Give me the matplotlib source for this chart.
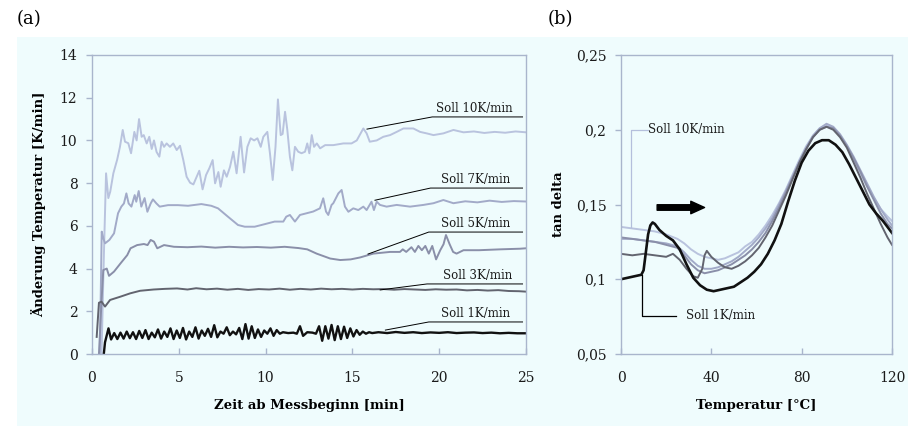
import numpy as np
import matplotlib
matplotlib.use('Agg')
import matplotlib.pyplot as plt
from matplotlib.patches import Rectangle

plt.rcParams['font.family'] = ['DejaVu Serif']

# --- (a) Heizrate ueber Zeit ---
t10 = [0.55, 0.68, 0.81, 0.94, 1.05, 1.23, 1.45, 1.61, 1.77, 1.90, 2.09, 2.25, 2.44, 2.57, 2.71, 2.86, 2.98, 3.15, 3.30, 3.44,
       3.57, 3.72, 3.88, 4.01, 4.15, 4.30, 4.49, 4.68, 4.88, 5.07, 5.26, 5.45, 5.65, 5.84, 6.03, 6.18, 6.37, 6.57, 6.76, 6.95,
       7.09, 7.28, 7.41, 7.60, 7.76, 7.95, 8.14, 8.33, 8.56, 8.76, 8.95, 9.14, 9.34, 9.53, 9.72, 9.87, 10.10, 10.25, 10.41, 10.57,
       10.71, 10.87, 10.98, 11.12, 11.25, 11.40, 11.54, 11.69, 11.88, 12.07, 12.27, 12.40, 12.52, 12.66, 12.79, 12.95, 13.14, 13.43, 13.90, 14.48,
       14.95, 15.25, 15.63, 15.82, 16.00, 16.40, 16.78, 17.17, 17.55, 17.94, 18.51, 18.90, 19.28, 19.67, 20.24, 20.82, 21.4, 22.0, 22.6, 23.2,
       23.8, 24.4, 25.0]
v10 = [0.0, 4.5, 8.46, 7.30, 7.6, 8.46, 9.1, 9.70, 10.49, 9.94, 9.87, 9.40, 10.40, 10.00, 11.00, 10.17, 10.25, 9.86, 10.17, 9.60,
       10.00, 9.46, 9.24, 9.94, 9.70, 9.86, 9.70, 9.86, 9.55, 9.75, 9.08, 8.30, 8.02, 7.94, 8.30, 8.58, 7.71, 8.38, 8.70, 9.08,
       7.99, 8.52, 7.83, 8.60, 8.30, 8.76, 9.47, 8.46, 10.17, 8.50, 9.70, 10.10, 10.00, 10.10, 9.70, 10.17, 10.40, 9.40, 8.15, 9.70,
       11.92, 10.25, 10.30, 11.34, 10.50, 9.24, 8.60, 9.70, 9.47, 9.40, 9.47, 9.86, 9.40, 10.25, 9.70, 9.86, 9.63, 9.78, 9.78, 9.86,
       9.86, 10.00, 10.56, 10.33, 9.94, 10.00, 10.17, 10.25, 10.40, 10.56, 10.56, 10.40, 10.33, 10.25, 10.33, 10.49, 10.38, 10.42, 10.35, 10.40,
       10.36, 10.42, 10.38]

t7 = [0.45, 0.56, 0.66, 0.75, 1.00, 1.27, 1.50, 1.69, 1.84, 1.98, 2.11, 2.27, 2.46, 2.55, 2.69, 2.84, 3.03, 3.19, 3.38, 3.51,
      3.71, 3.90, 4.38, 4.95, 5.53, 6.30, 6.87, 7.26, 7.83, 8.41, 8.80, 9.37, 9.76, 10.14, 10.52, 11.02, 11.19, 11.40, 11.69, 11.98,
      12.36, 12.74, 13.13, 13.32, 13.48, 13.61, 13.80, 13.90, 14.19, 14.38, 14.57, 14.77, 15.05, 15.34, 15.63, 15.82, 16.10, 16.24, 16.40, 16.59,
      16.97, 17.55, 18.32, 19.09, 19.67, 20.24, 20.82, 21.5, 22.2, 22.9, 23.6, 24.3, 25.0]
v7 = [0.0, 5.73, 5.4, 5.18, 5.34, 5.65, 6.59, 6.90, 7.05, 7.52, 7.05, 6.90, 7.44, 7.13, 7.63, 6.90, 7.30, 6.66, 7.05, 7.24,
      7.05, 6.90, 6.97, 6.97, 6.94, 7.02, 6.94, 6.82, 6.43, 6.04, 5.96, 5.96, 6.04, 6.12, 6.20, 6.20, 6.43, 6.51, 6.20, 6.51,
      6.59, 6.67, 6.82, 7.29, 6.67, 6.51, 6.98, 7.06, 7.52, 7.68, 6.90, 6.66, 6.82, 6.74, 6.90, 6.74, 7.13, 6.74, 7.13, 6.98,
      6.90, 6.98, 6.90, 6.98, 7.06, 7.21, 7.06, 7.15, 7.10, 7.18, 7.12, 7.16, 7.14]

t5 = [0.40, 0.55, 0.65, 0.85, 0.98, 1.27, 1.65, 2.03, 2.22, 2.60, 2.99, 3.20, 3.38, 3.57, 3.76, 4.15, 4.72, 5.5, 6.3, 7.1,
      7.9, 8.7, 9.5, 10.3, 11.1, 11.9, 12.4, 12.94, 13.72, 14.30, 14.90, 15.44, 16.2, 17.17, 17.74, 17.9, 18.1, 18.4, 18.6, 18.8,
      19.0, 19.2, 19.4, 19.6, 19.82, 20.06, 20.25, 20.39, 20.6, 20.8, 21.0, 21.4, 22.3, 23.5, 24.66, 25.0]
v5 = [0.0, 2.5, 3.93, 4.0, 3.66, 3.86, 4.25, 4.63, 4.95, 5.10, 5.15, 5.10, 5.34, 5.26, 4.95, 5.10, 5.02, 5.00, 5.03, 4.98,
      5.02, 4.99, 5.01, 4.98, 5.02, 4.96, 4.90, 4.70, 4.47, 4.40, 4.43, 4.52, 4.70, 4.78, 4.78, 4.90, 4.78, 5.00, 4.78, 5.06,
      4.86, 5.06, 4.70, 5.06, 4.43, 4.86, 5.14, 5.57, 5.14, 4.78, 4.70, 4.86, 4.86, 4.90, 4.93, 4.95]

t3 = [0.27, 0.40, 0.55, 0.75, 1.04, 1.62, 2.20, 2.77, 3.55, 4.2, 4.9, 5.5, 6.0, 6.6, 7.2, 7.8, 8.4, 9.0, 9.6, 10.2,
      10.8, 11.4, 12.0, 12.6, 13.2, 13.8, 14.4, 15.0, 15.6, 16.2, 16.8, 17.4, 18.0, 18.6, 19.2, 19.8, 20.4, 21.0, 21.6, 22.2,
      22.8, 23.4, 24.0, 24.6, 25.0]
v3 = [0.80, 2.40, 2.45, 2.22, 2.53, 2.68, 2.84, 2.96, 3.02, 3.05, 3.07, 3.02, 3.08, 3.03, 3.06, 3.01, 3.05, 3.00, 3.04, 3.02,
      3.06, 3.01, 3.05, 3.02, 3.06, 3.03, 3.05, 3.02, 3.05, 3.03, 3.04, 3.01, 3.04, 3.02, 3.00, 3.03, 3.01, 3.02, 2.98, 3.00,
      2.97, 2.99, 2.95, 2.94, 2.92]

t1 = [0.68, 0.75, 0.95, 1.10, 1.28, 1.46, 1.64, 1.82, 2.00, 2.18, 2.36, 2.54, 2.72, 2.90, 3.08, 3.26, 3.44, 3.62, 3.80, 3.98,
      4.16, 4.34, 4.52, 4.70, 4.88, 5.06, 5.24, 5.42, 5.60, 5.78, 5.96, 6.14, 6.32, 6.50, 6.68, 6.86, 7.04, 7.22, 7.40, 7.58,
      7.76, 7.94, 8.12, 8.30, 8.48, 8.66, 8.84, 9.02, 9.20, 9.38, 9.56, 9.74, 9.92, 10.10, 10.28, 10.46, 10.64, 10.82, 11.00, 11.30,
      11.60, 11.80, 11.98, 12.16, 12.40, 12.70, 12.90, 13.08, 13.26, 13.44, 13.62, 13.80, 13.98, 14.16, 14.34, 14.52, 14.70, 14.88, 15.06, 15.24,
      15.42, 15.60, 15.78, 15.96, 16.14, 16.5, 17.0, 17.5, 18.0, 18.5, 19.0, 19.5, 20.0, 20.5, 21.0, 21.5, 22.0, 22.5, 23.0, 23.5,
      24.0, 24.5, 25.0]
v1 = [0.0, 0.55, 1.20, 0.68, 0.98, 0.70, 1.00, 0.72, 1.05, 0.74, 1.02, 0.70, 1.08, 0.75, 1.12, 0.70, 1.00, 0.78, 1.15, 0.72,
      1.05, 0.80, 1.20, 0.70, 1.10, 0.75, 1.22, 0.68, 1.05, 0.80, 1.25, 0.72, 1.10, 0.85, 1.18, 0.80, 1.35, 0.78, 1.05, 0.95,
      1.25, 0.88, 1.05, 0.92, 1.22, 0.70, 1.40, 0.72, 1.30, 0.75, 1.15, 0.80, 1.10, 0.95, 1.20, 0.85, 1.12, 0.95, 1.02, 0.98,
      1.00, 0.95, 1.30, 0.85, 1.02, 1.00, 0.95, 1.30, 0.62, 1.30, 0.72, 1.36, 0.65, 1.30, 0.70, 1.28, 0.75, 1.20, 0.82, 1.12,
      0.90, 1.05, 0.95, 1.02, 0.98, 1.02, 0.98, 1.03, 0.99, 1.02, 0.98, 1.01, 0.99, 1.02, 0.98, 1.00, 1.01, 0.98, 1.00, 0.97,
      0.99, 0.97, 0.97]

# --- (b) tan delta ueber Temperatur ---
T1 = [0, 3, 6, 9, 10, 11, 12, 13, 14, 15, 17, 20, 23, 26, 29, 32, 35, 38, 41, 44,
      47, 50, 53, 56, 59, 62, 65, 68, 71, 74, 77, 80, 83, 86, 89, 92, 95, 98, 101, 104,
      107, 110, 113, 116, 119, 120]
d1 = [0.100, 0.101, 0.102, 0.103, 0.106, 0.118, 0.130, 0.136, 0.138, 0.137, 0.133, 0.129, 0.126, 0.120, 0.110, 0.101, 0.096, 0.093, 0.092, 0.093,
      0.094, 0.095, 0.098, 0.101, 0.105, 0.110, 0.117, 0.126, 0.137, 0.152, 0.166, 0.178, 0.186, 0.191, 0.193, 0.193, 0.190, 0.185, 0.177, 0.168,
      0.159, 0.150, 0.144, 0.139, 0.133, 0.131]

T_std = [0, 5, 10, 15, 20, 25, 28, 31, 34, 37, 40, 43, 46, 49, 52, 55, 58, 61, 64, 67,
         70, 73, 76, 79, 82, 85, 88, 91, 94, 97, 100, 103, 106, 109, 112, 115, 118, 120]
d10 = [0.135, 0.134, 0.133, 0.132, 0.130, 0.127, 0.124, 0.120, 0.117, 0.115, 0.114, 0.113, 0.114, 0.116, 0.118, 0.122, 0.125, 0.130, 0.136, 0.143,
       0.151, 0.160, 0.170, 0.180, 0.189, 0.196, 0.201, 0.203, 0.201, 0.196, 0.189, 0.180, 0.171, 0.162, 0.154, 0.147, 0.142, 0.139]
d7 = [0.127, 0.127, 0.126, 0.125, 0.124, 0.122, 0.118, 0.113, 0.109, 0.107, 0.107, 0.108, 0.110, 0.112, 0.115, 0.119, 0.123, 0.128, 0.134, 0.141,
      0.150, 0.159, 0.169, 0.179, 0.188, 0.196, 0.201, 0.204, 0.202, 0.197, 0.190, 0.182, 0.173, 0.164, 0.155, 0.147, 0.140, 0.136]
d5 = [0.128, 0.127, 0.126, 0.125, 0.123, 0.121, 0.116, 0.110, 0.106, 0.104, 0.105, 0.106, 0.108, 0.110, 0.113, 0.116, 0.120, 0.125, 0.131, 0.139,
      0.148, 0.158, 0.168, 0.178, 0.187, 0.195, 0.200, 0.202, 0.201, 0.196, 0.189, 0.181, 0.172, 0.162, 0.153, 0.144, 0.137, 0.134]

T3 = [0, 5, 10, 15, 20, 23, 26, 29, 32, 34, 36, 37, 38, 40, 43, 46, 49, 52, 55, 58,
      61, 64, 67, 70, 73, 76, 79, 82, 85, 88, 91, 94, 97, 100, 103, 106, 109, 112, 115, 118, 120]
d3 = [0.117, 0.116, 0.117, 0.116, 0.115, 0.117, 0.113, 0.107, 0.102, 0.101, 0.107, 0.116, 0.119, 0.115, 0.111, 0.108, 0.107, 0.109, 0.112, 0.116,
      0.121, 0.128, 0.136, 0.146, 0.156, 0.167, 0.178, 0.187, 0.195, 0.200, 0.202, 0.200, 0.195, 0.188, 0.178, 0.168, 0.157, 0.147, 0.137, 0.128, 0.123]

c10, c7, c5, c3, c1 = '#b9c3de', '#a2aac8', '#8a8fa9', '#62646f', '#111111'
spine_col = '#a9b5cc'
bg_col = '#effcfd'
txt_col = '#1a1a1a'

fig = plt.figure(figsize=(9.08, 4.26), dpi=100)
fig.patches.append(Rectangle((17 / 908, 0), 1, (426 - 37) / 426, transform=fig.transFigure,
                             facecolor=bg_col, edgecolor='none', zorder=-5))

axA = fig.add_axes([92 / 908, 72 / 426, 434 / 908, 299 / 426])
axB = fig.add_axes([621 / 908, 72 / 426, 271 / 908, 299 / 426])

for ax in (axA, axB):
    ax.set_facecolor('none')
    for s in ax.spines.values():
        s.set_color(spine_col)
        s.set_linewidth(1.0)
    ax.tick_params(axis='y', direction='out', length=4.5, width=1, color=spine_col,
                   labelsize=10, labelcolor=txt_col, pad=6)
    ax.tick_params(axis='x', direction='in', length=4, width=1, color=spine_col,
                   labelsize=10, labelcolor=txt_col, pad=12)

# (a)
axA.plot(t10, v10, color=c10, lw=1.4, solid_joinstyle='round')
axA.plot(t7, v7, color=c7, lw=1.4, solid_joinstyle='round')
axA.plot(t5, v5, color=c5, lw=1.4, solid_joinstyle='round')
axA.plot(t3, v3, color=c3, lw=1.4, solid_joinstyle='round')
axA.plot(t1, v1, color=c1, lw=1.7, solid_joinstyle='round')
axA.set_xlim(0, 25)
axA.set_ylim(0, 14)
axA.set_xticks([0, 5, 10, 15, 20, 25])
axA.set_yticks([0, 2, 4, 6, 8, 10, 12, 14])
axA.set_xlabel('Zeit ab Messbeginn [min]', fontsize=9.5, fontweight='bold', labelpad=10)
axA.set_ylabel('Änderung Temperatur [K/min]', fontsize=9.5, fontweight='bold', labelpad=10)

labels_a = ['Soll 10K/min', 'Soll 7K/min', 'Soll 5K/min', 'Soll 3K/min', 'Soll 1K/min']
# (Kurvenpunkt, Hoehe der Unterstreichung, Beginn der Unterstreichung, Textbeginn)
anchors_a = [((15.84, 10.53), 11.1, 19.6, 19.8),
             ((16.3, 7.2), 7.77, 19.5, 20.1),
             ((15.9, 4.68), 5.71, 19.4, 20.1),
             ((16.6, 3.0), 3.28, 19.3, 20.2),
             ((16.9, 1.12), 1.5, 19.4, 20.1)]
for lab, (pt, yl, xl, xt) in zip(labels_a, anchors_a):
    axA.plot([pt[0], xl, 24.8], [pt[1], yl, yl], color='black', lw=0.7)
    axA.annotate(lab, (xt, yl), xytext=(0, 1.5), textcoords='offset points',
                 fontsize=8.5, color=txt_col, va='bottom', ha='left')

# (b)
axB.plot(T_std, d10, color=c10, lw=1.4, solid_joinstyle='round')
axB.plot(T_std, d7, color=c7, lw=1.4, solid_joinstyle='round')
axB.plot(T_std, d5, color=c5, lw=1.4, solid_joinstyle='round')
axB.plot(T3, d3, color=c3, lw=1.4, solid_joinstyle='round')
axB.plot(T1, d1, color=c1, lw=1.9, solid_joinstyle='round')
axB.set_xlim(0, 120)
axB.set_ylim(0.05, 0.25)
axB.set_xticks([0, 40, 80, 120])
axB.set_yticks([0.05, 0.1, 0.15, 0.2, 0.25])
axB.set_yticklabels(['0,05', '0,1', '0,15', '0,2', '0,25'])
axB.set_xlabel('Temperatur [°C]', fontsize=9.5, fontweight='bold', labelpad=10)
axB.set_ylabel('tan delta', fontsize=9.5, fontweight='bold', labelpad=8)

axB.plot([12.0, 4.4, 4.4], [0.2, 0.2, 0.135], color='#b4bfdc', lw=0.9)
axB.text(12.0, 0.2, 'Soll 10K/min', fontsize=8.5, color=txt_col, va='center', ha='left')
axB.plot([24.4, 9.3, 9.3], [0.0755, 0.0755, 0.103], color='black', lw=0.9)
axB.text(28.8, 0.0755, 'Soll 1K/min', fontsize=8.5, color=txt_col, va='center', ha='left')
axB.annotate('', xy=(37, 0.148), xytext=(16, 0.148),
             arrowprops=dict(arrowstyle='simple,head_length=0.55,head_width=0.5,tail_width=0.22',
                             mutation_scale=18, color='black', shrinkA=0, shrinkB=0))

fig.text(17 / 908, 1 - 19 / 426, '(a)', fontsize=13, va='center', ha='left')
fig.text(548 / 908, 1 - 19 / 426, '(b)', fontsize=13, va='center', ha='left')

fig.savefig('out.png', dpi=100)
